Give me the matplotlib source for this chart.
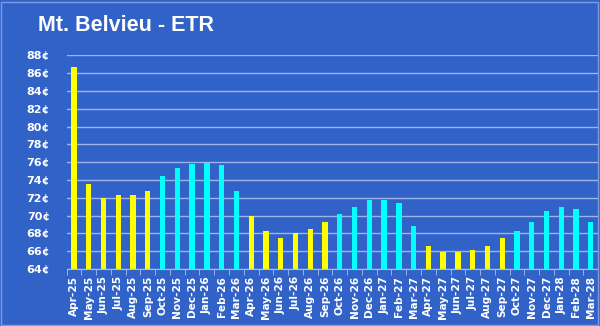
import matplotlib
matplotlib.use("Agg")
import matplotlib.pyplot as plt
import numpy as np

plt.rcParams['font.family'] = ['Liberation Sans', 'DejaVu Sans']

# data
months = ['Apr-25', 'May-25', 'Jun-25', 'Jul-25', 'Aug-25', 'Sep-25',
          'Oct-25', 'Nov-25', 'Dec-25', 'Jan-26', 'Feb-26', 'Mar-26',
          'Apr-26', 'May-26', 'Jun-26', 'Jul-26', 'Aug-26', 'Sep-26',
          'Oct-26', 'Nov-26', 'Dec-26', 'Jan-27', 'Feb-27', 'Mar-27',
          'Apr-27', 'May-27', 'Jun-27', 'Jul-27', 'Aug-27', 'Sep-27',
          'Oct-27', 'Nov-27', 'Dec-27', 'Jan-28', 'Feb-28', 'Mar-28']
prices = [86.7, 73.5, 72.0, 72.3, 72.3, 72.8,
          74.4, 75.3, 75.8, 75.9, 75.7, 72.8,
          70.0, 68.3, 67.5, 68.0, 68.5, 69.3,
          70.2, 71.0, 71.75, 71.75, 71.4, 68.8,
          66.6, 65.9, 65.9, 66.1, 66.6, 67.5,
          68.3, 69.3, 70.5, 71.0, 70.7, 69.3]
season = ['summer'] * 6 + ['winter'] * 6
season = season * 3
colours = {'summer': '#FFFF00', 'winter': '#00FFFF'}
yticks = np.arange(64, 89, 2)

bg = '#3162C8'
fig = plt.figure(figsize=(6, 3.26), dpi=100, facecolor=bg)
ax = fig.add_axes([0.111, 0.175, 0.886, 0.655])
ax.set_facecolor(bg)

x = np.arange(len(months))
ax.bar(x, [p - 64 for p in prices], bottom=64, width=0.36,
       color=[colours[s] for s in season], zorder=3)

ax.set_ylim(64, 88)
ax.set_xlim(-0.5, len(months) - 0.5)
ax.set_yticks(yticks)
ax.set_yticklabels([f"{v}¢" for v in yticks], color='white',
                   fontsize=8, fontweight='bold', family='DejaVu Sans')
ax.set_xticks(x)
ax.set_xticklabels(months, rotation=90, color='white',
                   fontsize=7.6, fontweight='bold', family='DejaVu Sans')
ax.set_xticks(np.arange(len(months) + 1) - 0.5, minor=True)
ax.tick_params(axis='x', which='major', length=0, pad=5)
ax.tick_params(axis='x', which='minor', length=4, color='#A9BDEB', direction='out')
ax.tick_params(axis='y', length=0, pad=12)

ax.grid(axis='y', color='#9DB3EA', linewidth=1, zorder=0)
for s in ['top', 'right', 'left']:
    ax.spines[s].set_visible(False)
ax.spines['bottom'].set_color('#A9BDEB')
ax.spines['bottom'].set_zorder(4)

fig.text(0.063, 0.905, 'Mt. Belvieu - ETR', color='white', fontsize=15.5,
         fontweight='bold', va='baseline')

# thin light frame round the picture
fig.patches.append(plt.Rectangle((0.002, 0.003), 0.994, 0.992, transform=fig.transFigure,
                                 fill=False, edgecolor='#7E9AE0', linewidth=1))

fig.savefig('out.png', dpi=100, facecolor=bg)
